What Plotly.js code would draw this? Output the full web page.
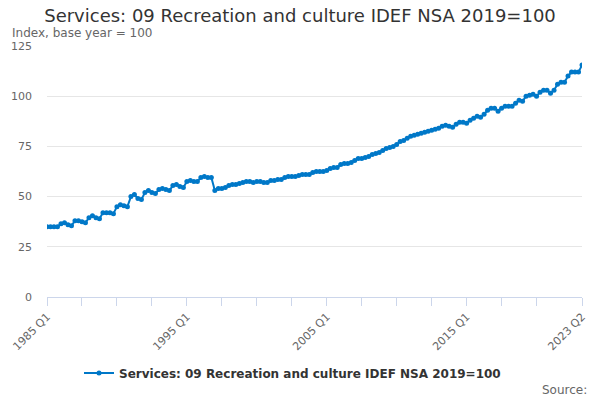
<!DOCTYPE html>
<html>
<head>
<meta charset="utf-8">
<script src="https://cdn.plot.ly/plotly-3.0.1.min.js"></script>
<style>html,body{margin:0;padding:0;background:#fff;}#chart{width:600px;height:400px;}</style>
</head>
<body>
<div id="chart"></div>
<script>
var years = [];
for (var y = 1985; y <= 2023; y++) years.push(y);

var values = [
  35, 35, 35, 35,          // 1985
  36.5, 37, 36, 35.5,      // 1986
  38, 38, 37.5, 37,        // 1987
  39.5, 40.5, 39.5, 39,    // 1988
  42, 42, 42, 41.5,        // 1989
  45, 46, 45.5, 45,        // 1990
  50, 51, 49, 48.5,        // 1991
  52, 53, 52, 51.5,        // 1992
  53.5, 54, 53.5, 53,      // 1993
  55.5, 56, 55, 54.5,      // 1994
  57.5, 58, 57.5, 57.5,    // 1995
  59.5, 60, 59.5, 59.5,    // 1996
  53, 54, 54, 54.5,        // 1997
  55.5, 56, 56, 56.5,      // 1998
  57, 57.5, 57.5, 57,      // 1999
  57.5, 57.5, 57, 57,      // 2000
  58, 58, 58.5, 58.5,      // 2001
  59.5, 60, 60, 60,        // 2002
  60.5, 61, 61, 61,        // 2003
  62, 62.5, 62.5, 62.5,    // 2004
  63, 64, 64.5, 64.5,      // 2005
  66, 66.5, 66.5, 67,      // 2006
  68, 69, 69, 69.5,        // 2007
  70, 71, 71.5, 72,        // 2008
  73, 74, 74.5, 75,        // 2009
  76, 77.5, 78, 79,        // 2010
  80, 80.5, 81, 81.5,      // 2011
  82, 82.5, 83, 83.5,      // 2012
  84, 85, 85.5, 85,        // 2013
  84.5, 86, 87, 87,        // 2014
  86.5, 88, 89, 90,        // 2015
  89.5, 91, 93, 94,        // 2016
  94, 92.5, 94, 95,        // 2017
  95, 95, 96.5, 98,        // 2018
  97.5, 100, 100.5, 101,   // 2019
  100, 102, 103, 103,      // 2020
  101.5, 103, 106, 107,    // 2021
  107, 110, 112, 112,      // 2022
  112, 115.5               // 2023
];

var categories = [];
for (var i = 0; i < values.length; i++) {
  var yr = 1985 + Math.floor(i / 4);
  categories.push(yr + ' Q' + (i % 4 + 1));
}

var tickLabels = ['1985 Q1', '1995 Q1', '2005 Q1', '2015 Q1', '2023 Q2'];
var seriesName = 'Services: 09 Recreation and culture IDEF NSA 2019=100';

var tickvals = [], ticktext = [];
for (var k = 0; k <= 140; k += 10) {
  tickvals.push(categories[k]);
  ticktext.push(tickLabels.indexOf(categories[k]) >= 0 ? categories[k] : '');
}
tickvals.push(categories[categories.length - 1]);
ticktext.push(categories[categories.length - 1]);

var color = '#0078c8';
var trace = {
  x: categories,
  y: values,
  type: 'scatter',
  mode: 'lines+markers',
  name: seriesName,
  line: {color: color, width: 2},
  marker: {color: color, size: 5},
  hoverinfo: 'x+y'
};

var layout = {
  width: 600, height: 400,
  margin: {l: 47, r: 18, t: 46, b: 103},
  paper_bgcolor: '#fff', plot_bgcolor: '#fff',
  font: {family: 'DejaVu Sans, sans-serif', color: '#666', size: 11},
  title: {text: 'Services: 09 Recreation and culture IDEF NSA 2019=100',
          font: {size: 18, color: '#333', family: 'DejaVu Sans, sans-serif'},
          x: 0.5, xref: 'container', xanchor: 'center',
          y: 1 - 15.5 / 400, yref: 'container', yanchor: 'middle'},
  showlegend: true,
  legend: {orientation: 'h', x: 0.5 - 22 / 535, xanchor: 'center', y: -0.303, yanchor: 'middle',
           font: {size: 12, color: '#333', family: 'DejaVu Sans, sans-serif', weight: 'bold'},
           bgcolor: 'rgba(0,0,0,0)'},
  xaxis: {
    type: 'category',
    range: [0, values.length - 1],
    tickmode: 'array', tickvals: tickvals, ticktext: ticktext,
    tickangle: -45,
    ticks: 'outside', ticklen: 8, tickcolor: '#ccd6eb', tickwidth: 1,
    showline: true, linecolor: '#ccd6eb', linewidth: 1,
    showgrid: false, zeroline: false,
    tickfont: {size: 11, color: '#666'},
    fixedrange: true
  },
  yaxis: {
    range: [0, 125],
    tickvals: [0, 25, 50, 75, 100, 125],
    showgrid: true, gridcolor: '#e6e6e6', gridwidth: 1,
    zeroline: false, showline: false,
    ticks: '', ticklabelstandoff: 14,
    tickfont: {size: 11, color: '#666'},
    fixedrange: true
  },
  annotations: [
    {text: 'Index, base year = 100', xref: 'paper', yref: 'paper',
     x: (10 - 47) / 535, y: (297 - 33) / 251, xanchor: 'left', yanchor: 'middle',
     showarrow: false, font: {size: 12, color: '#666'}},
    {text: 'Source:', xref: 'paper', yref: 'paper',
     x: (589 - 47) / 535, y: (297 - 390) / 251, xanchor: 'right', yanchor: 'middle',
     showarrow: false, font: {size: 12, color: '#666'}}
  ]
};

Plotly.newPlot('chart', [trace], layout, {displayModeBar: false, staticPlot: true});
</script>
</body>
</html>
